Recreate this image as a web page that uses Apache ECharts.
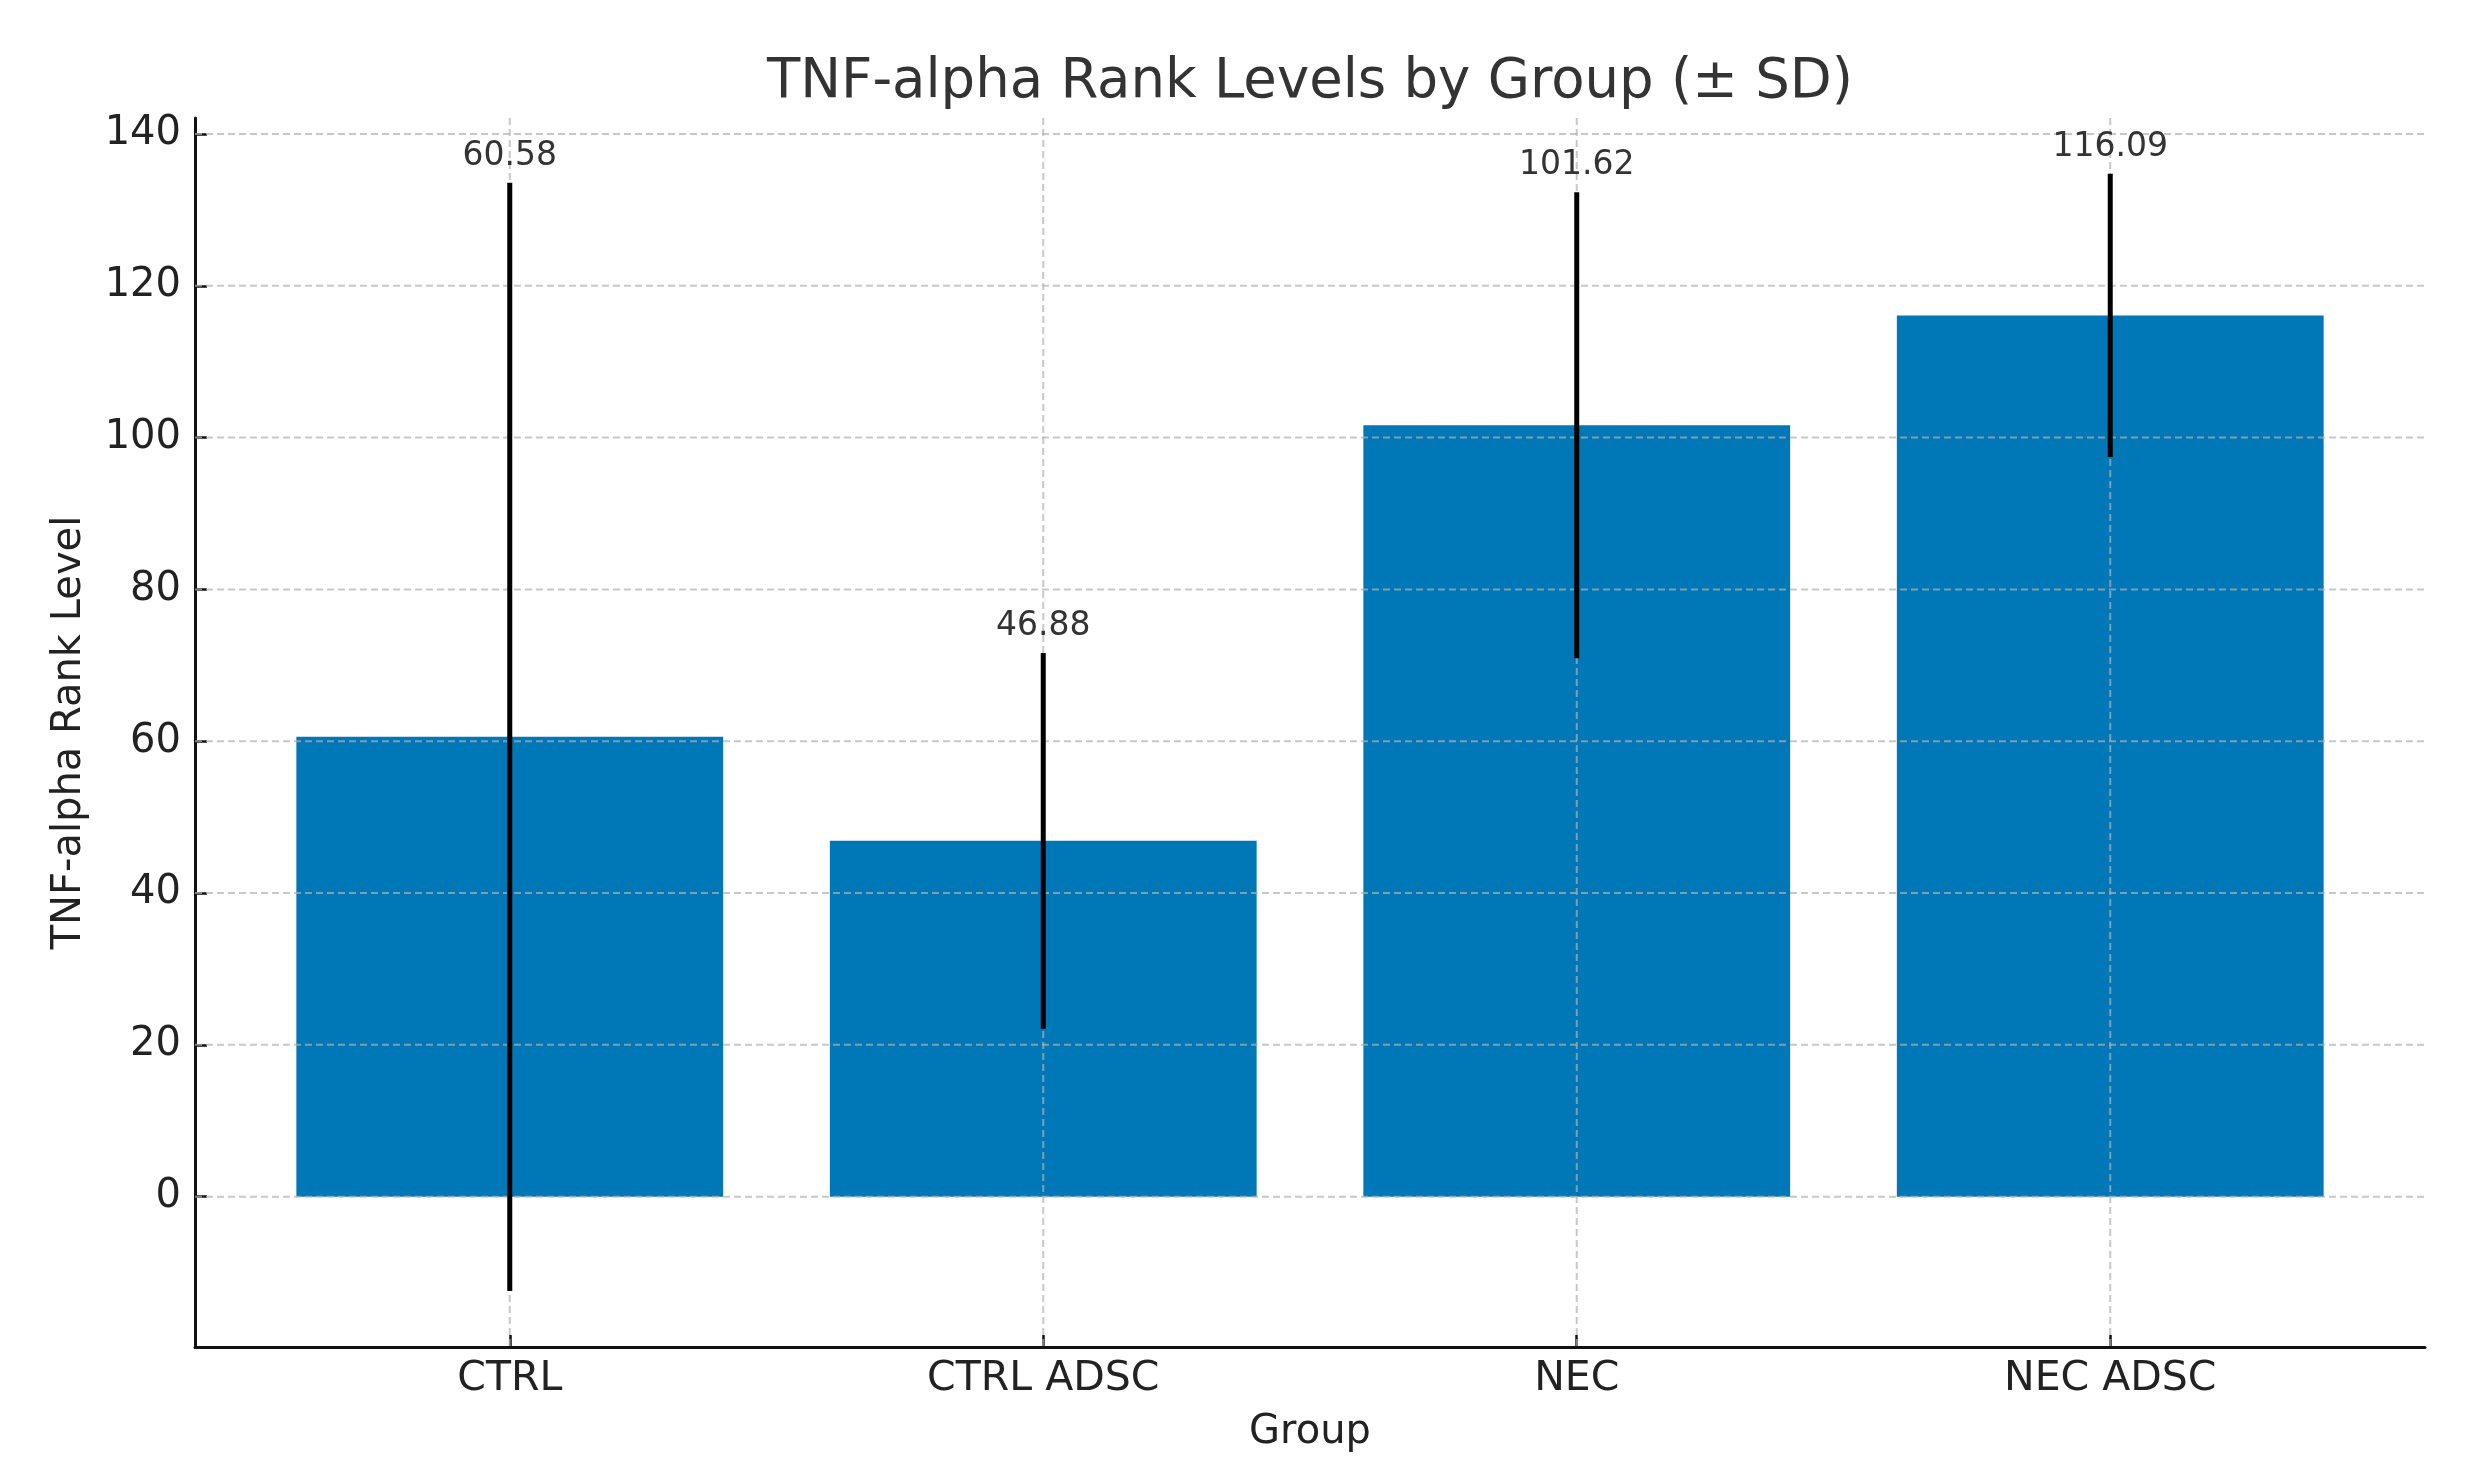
<!DOCTYPE html>
<html>
<head>
<meta charset="utf-8">
<script src="https://cdn.jsdelivr.net/npm/echarts@6/dist/echarts.min.js"></script>
<style>
html,body{margin:0;padding:0;background:#fff;}
#chart{width:2466px;height:1480px;}
</style>
</head>
<body>
<div id="chart"></div>
<script>
// ---- data ----
const categories = ['CTRL', 'CTRL ADSC', 'NEC', 'NEC ADSC'];
const means = [60.58, 46.88, 101.62, 116.09];
const sds = [73.0, 24.75, 30.7, 18.65];
const yTicks = [0, 20, 40, 60, 80, 100, 120, 140];
const xTicks = [0, 1, 2, 3];

const FONT = 'DejaVu Sans';
const BAR_COLOR = '#0077b6';
const GRID_COLOR = 'rgba(176,176,176,0.7)';

const chart = echarts.init(document.getElementById('chart'), null, {renderer: 'canvas'});

const barData = means.map((m, i) => [i, m]);
const errData = means.map((m, i) => [i, m, sds[i]]);

const option = {
  backgroundColor: '#ffffff',
  animation: false,
  title: {
    text: 'TNF-alpha Rank Levels by Group (± SD)',
    left: 1305,
    textAlign: 'center',
    top: 50,
    textStyle: {fontFamily: FONT, fontSize: 54.5, fontWeight: 'normal', color: '#333333'}
  },
  grid: {left: 195, right: 41, top: 118, bottom: 133, containLabel: false},
  xAxis: {
    type: 'value',
    min: -0.59,
    max: 3.59,
    name: 'Group',
    nameLocation: 'middle',
    nameGap: 66,
    nameTextStyle: {fontFamily: FONT, fontSize: 40, color: '#222222'},
    axisLine: {show: true, onZero: false, lineStyle: {color: '#111111', width: 3}},
    axisTick: {show: true, inside: true, length: 12, customValues: xTicks, lineStyle: {color: '#111111', width: 2.5}},
    axisLabel: {
      show: true, customValues: xTicks, margin: 12,
      fontFamily: FONT, fontSize: 41, color: '#222222',
      formatter: v => categories[Math.round(v)] || ''
    },
    splitLine: {show: false}
  },
  yAxis: {
    type: 'value',
    min: -19.8,
    max: 142.1,
    name: 'TNF-alpha Rank Level',
    nameLocation: 'middle',
    nameRotate: 90,
    nameGap: 105,
    nameTextStyle: {fontFamily: FONT, fontSize: 40, color: '#222222'},
    axisLine: {show: true, onZero: false, lineStyle: {color: '#111111', width: 3}},
    axisTick: {show: true, inside: true, length: 12, customValues: yTicks, lineStyle: {color: '#111111', width: 2.5}},
    axisLabel: {
      show: true, customValues: yTicks, margin: 14,
      fontFamily: FONT, fontSize: 40, color: '#222222'
    },
    splitLine: {show: false}
  },
  series: [
    {
      // bars
      type: 'custom',
      z: 1,
      silent: true,
      data: barData,
      renderItem: function (params, api) {
        const i = api.value(0), v = api.value(1);
        const p1 = api.coord([i - 0.4, v]);
        const p2 = api.coord([i + 0.4, 0]);
        return {
          type: 'rect',
          shape: {x: p1[0], y: p1[1], width: p2[0] - p1[0], height: p2[1] - p1[1]},
          style: {fill: BAR_COLOR}
        };
      }
    },
    {
      // horizontal grid lines
      type: 'custom',
      z: 2,
      silent: true,
      clip: false,
      data: yTicks.map(v => [0, v]),
      renderItem: function (params, api) {
        const y = api.coord([0, api.value(1)])[1];
        const cs = params.coordSys;
        return {
          type: 'line',
          shape: {x1: cs.x, y1: y, x2: cs.x + cs.width, y2: y},
          style: {stroke: GRID_COLOR, lineWidth: 2, lineDash: [7, 4]}
        };
      }
    },
    {
      // vertical grid lines
      type: 'custom',
      z: 2,
      silent: true,
      clip: false,
      data: xTicks.map(v => [v, 0]),
      renderItem: function (params, api) {
        const x = api.coord([api.value(0), 0])[0];
        const cs = params.coordSys;
        return {
          type: 'line',
          shape: {x1: x, y1: cs.y, x2: x, y2: cs.y + cs.height},
          style: {stroke: GRID_COLOR, lineWidth: 2, lineDash: [7, 4]}
        };
      }
    },
    {
      // error bars + value labels
      type: 'custom',
      z: 3,
      silent: true,
      clip: false,
      data: errData,
      renderItem: function (params, api) {
        const i = api.value(0), m = api.value(1), sd = api.value(2);
        const top = api.coord([i, m + sd]);
        const bot = api.coord([i, m - sd]);
        const lab = api.coord([i, m + sd + 2]);
        return {
          type: 'group',
          children: [
            {
              type: 'line',
              shape: {x1: top[0], y1: top[1], x2: bot[0], y2: bot[1]},
              style: {stroke: '#000000', lineWidth: 5}
            },
            {
              type: 'text',
              x: lab[0], y: lab[1] + 5,
              style: {
                text: m.toFixed(2),
                fontFamily: FONT, fontSize: 33, fill: '#333333',
                align: 'center', verticalAlign: 'bottom'
              }
            }
          ]
        };
      }
    }
  ]
};

chart.setOption(option);
</script>
</body>
</html>
